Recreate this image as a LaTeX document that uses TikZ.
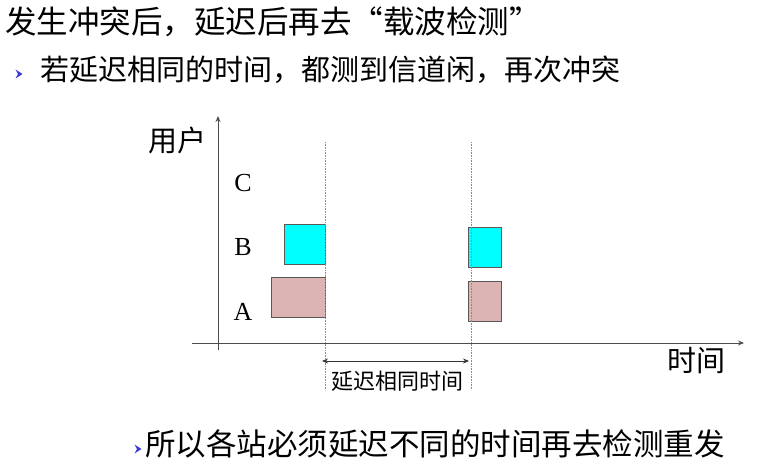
\documentclass[tikz,border=0pt]{standalone}
\usepackage{fontspec}
\setmainfont{Liberation Serif}
\newfontfamily\cjk{Noto Sans CJK SC}
\usetikzlibrary{arrows.meta,calc}
\definecolor{boxcyan}{HTML}{00FFFF}
\definecolor{boxpink}{HTML}{DDB4B4}
\definecolor{bulletblue}{HTML}{3A3AD8}
\tikzset{
  txt/.style={anchor=west, inner sep=0pt},
  slot/.style={draw=black!65, line width=0.8pt},
  guide/.style={densely dotted, draw=black!45, line width=0.6pt},
  axis/.style={draw=black!70, line width=0.9pt, -{Stealth[length=6pt,width=5pt]}}
}
\def\bullet(#1){\fill[bulletblue] ($(#1)+(-3.5,-4.5)$) -- ($(#1)+(3.5,0)$) -- ($(#1)+(-3.5,4.5)$) -- ($(#1)+(-1,0)$) -- cycle;}
\newcommand{\openq}{\makebox[1em][r]{“}}
\newcommand{\closeq}{\makebox[1em][l]{”}}

\begin{document}
\begin{tikzpicture}[x=1pt,y=-1pt]
				%%%%% START %%%%%
				\useasboundingbox (0,0) rectangle (782,468);
				
				\node[txt] (title) at (5,22) {\cjk\fontsize{31.5}{31.5}\selectfont 发生冲突后，延迟后再去\openq 载波检测\closeq};
				\bullet(19,74)
				\node[txt] (line2) at (40,70) {\cjk\fontsize{29}{29}\selectfont 若延迟相同的时间，都测到信道闲，再次冲突};
				
				\coordinate (o) at (218,343);
				\coordinate (ytop) at (218,116);
				\coordinate (xleft) at (192,343);
				\coordinate (xright) at (744,343);
				\draw[draw=black!70, line width=0.9pt] (o) -- (218,350);
				\draw[axis] (o) -- (ytop);
				\draw[axis] (xleft) -- (xright);
				
				\node[anchor=east, inner sep=0pt] (users) at (207,140) {\cjk\fontsize{29}{29}\selectfont 用户};
				\node[txt] (time) at (667,361) {\cjk\fontsize{29}{29}\selectfont 时间};
				
				\node (C) at (243,183) {\fontsize{26}{26}\selectfont C};
				\node (B) at (243,247) {\fontsize{26}{26}\selectfont B};
				\node (A) at (243,312) {\fontsize{26}{26}\selectfont A};
				
				\draw[slot, fill=boxcyan] (284,224) rectangle (325,264);
				\draw[slot, fill=boxpink] (271,277) rectangle (325,317);
				\draw[slot, fill=boxcyan] (468,227) rectangle (501,267);
				\draw[slot, fill=boxpink] (468,281) rectangle (501,321);
				
				\coordinate (g1top) at (325,142);
				\coordinate (g1bot) at (325,390);
				\coordinate (g2top) at (471,142);
				\coordinate (g2bot) at (471,390);
				\draw[guide] (g1top) -- (g1bot);
				\draw[guide] (g2top) -- (g2bot);
				
				\coordinate (d1) at (322,361);
				\coordinate (d2) at (469,361);
				\draw[black!80, line width=0.8pt, {Stealth[length=6pt,width=5pt]}-{Stealth[length=6pt,width=5pt]}] (d1) -- (d2);
				\node (delay) at (397,381) {\cjk\fontsize{22}{22}\selectfont 延迟相同时间};
				
				\bullet(138,449)
				\node[txt] (line3) at (145,444) {\cjk\fontsize{30.5}{30.5}\selectfont 所以各站必须延迟不同的时间再去检测重发};
				%%%%% END %%%%%
\end{tikzpicture}
\end{document}
